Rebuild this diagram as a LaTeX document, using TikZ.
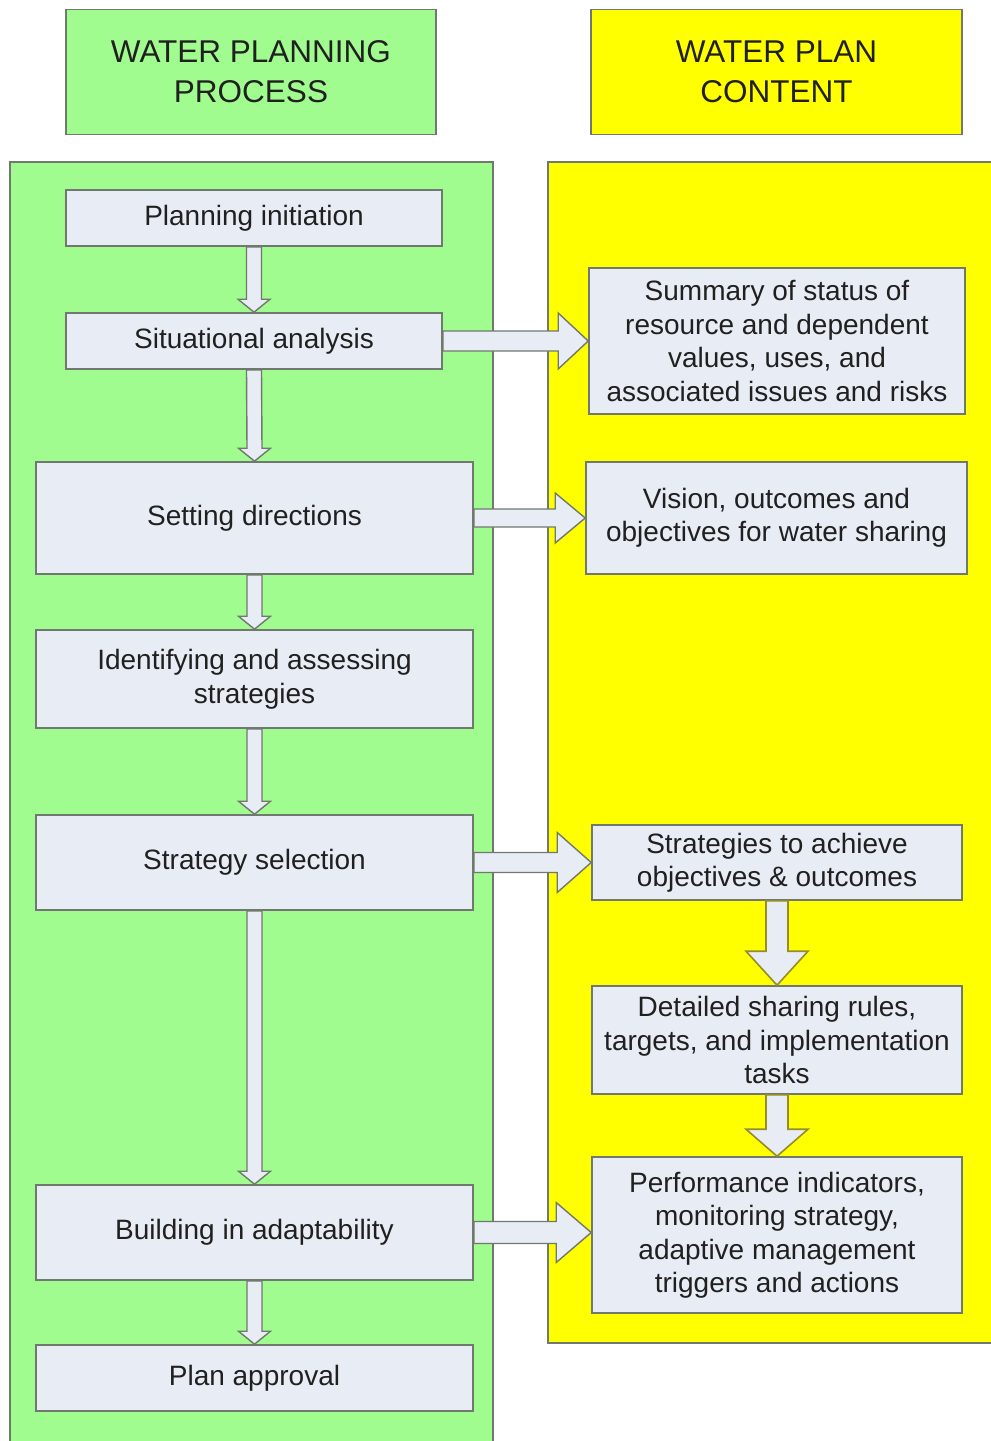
\documentclass[tikz,border=0pt]{standalone}
\usepackage{fontspec}
\setmainfont{Liberation Sans}
\usetikzlibrary{calc}
\definecolor{pgreen}{RGB}{160,252,142}
\definecolor{pyellow}{RGB}{255,255,0}
\definecolor{boxfill}{RGB}{232,236,244}
\definecolor{edgegray}{RGB}{112,120,112}
\definecolor{olivedge}{RGB}{150,140,40}
\definecolor{txtcol}{RGB}{32,32,32}
\newcommand{\blkdown}[6]{%
  \draw[#1] ($(#2.south)+(-#4,0)$) -- ($(#3.north)+(-#4,-#6)$) -- ($(#3.north)+(-#5,-#6)$) -- (#3.north)
   -- ($(#3.north)+(#5,-#6)$) -- ($(#3.north)+(#4,-#6)$) -- ($(#2.south)+(#4,0)$) -- cycle;}
\newcommand{\blkright}[6]{%
  \coordinate (tiptmp) at (#3.west |- #2.east);
  \draw[#1] ($(#2.east)+(0,-#4)$) -- ($(tiptmp)+(-#6,-#4)$) -- ($(tiptmp)+(-#6,-#5)$) -- (tiptmp)
   -- ($(tiptmp)+(-#6,#5)$) -- ($(tiptmp)+(-#6,#4)$) -- ($(#2.east)+(0,#4)$) -- cycle;}
\begin{document}
\begin{tikzpicture}[x=1pt,y=-1pt,
  panelg/.style={draw=edgegray,line width=1.6pt,fill=pgreen},
  panely/.style={draw=edgegray,line width=1.6pt,fill=pyellow},
  header/.style={draw=edgegray,line width=1.6pt,inner sep=0pt,align=center,text=txtcol,
     minimum width=370pt,minimum height=125pt,font=\fontsize{31.5}{40}\selectfont},
  procbox/.style={draw=edgegray,line width=1.6pt,fill=boxfill,inner sep=0pt,align=center,
     text=txtcol,font=\fontsize{28}{33.5}\selectfont},
  garrow/.style={draw=edgegray,line width=1.4pt,fill=boxfill,line join=miter},
  yarrow/.style={draw=olivedge,line width=1.6pt,fill=boxfill,line join=miter}]
\useasboundingbox (0,0) rectangle (991,1441);
\fill[white] (0,0) rectangle (991,1441);
% headers
\node[header,fill=pgreen] (hproc) at (251,72) {WATER PLANNING\\PROCESS};
\node[header,fill=pyellow,minimum width=371pt] (hcont) at (776.5,72) {WATER PLAN\\CONTENT};
% panels
\draw[panelg] (10,162) rectangle (493,1450);
\draw[panely] (548,162) rectangle (995,1343);
% left column
\node[procbox,minimum width=376pt,minimum height=56pt] (init) at (254,218) {Planning initiation};
\node[procbox,minimum width=376pt,minimum height=56pt] (sit) at (254,341) {Situational analysis};
\node[procbox,minimum width=437pt,minimum height=112pt] (dir) at (254.5,518) {Setting directions};
\node[procbox,minimum width=437pt,minimum height=98pt] (ident) at (254.5,679) {Identifying and assessing\\strategies};
\node[procbox,minimum width=437pt,minimum height=95pt] (sel) at (254.5,862.5) {Strategy selection};
\node[procbox,minimum width=437pt,minimum height=95pt] (adapt) at (254.5,1232.5) {Building in adaptability};
\node[procbox,minimum width=437pt,minimum height=66pt] (appr) at (254.5,1378) {Plan approval};
% right column
\node[procbox,minimum width=376pt,minimum height=146pt] (summ) at (777,341) {Summary of status of\\resource and dependent\\values, uses, and\\associated issues and risks};
\node[procbox,minimum width=381pt,minimum height=112pt] (vis) at (776.5,518) {Vision, outcomes and\\objectives for water sharing};
\node[procbox,minimum width=370pt,minimum height=75pt] (strat) at (777,862.5) {Strategies to achieve\\objectives \& outcomes};
\node[procbox,minimum width=370pt,minimum height=108pt] (rules) at (777,1040) {Detailed sharing rules,\\targets, and implementation\\tasks};
\node[procbox,minimum width=370pt,minimum height=156pt] (perf) at (777,1235) {Performance indicators,\\monitoring strategy,\\adaptive management\\triggers and actions};
% down arrows, left
\blkdown{garrow}{init}{sit}{7.5}{16}{13}
\blkdown{garrow}{sit}{dir}{7.5}{16}{13}
\blkdown{garrow}{dir}{ident}{7.5}{16}{13}
\blkdown{garrow}{ident}{sel}{7.5}{16}{13}
\blkdown{garrow}{sel}{adapt}{7.5}{16}{13}
\blkdown{garrow}{adapt}{appr}{7.5}{16}{13}
% right arrows
\blkright{garrow}{sit}{summ}{10}{28}{30}
\blkright{garrow}{dir}{vis}{9}{25}{30}
\blkright{garrow}{sel}{strat}{10}{30}{34}
\blkright{garrow}{adapt}{perf}{11}{30}{35}
% down arrows, right
\blkdown{yarrow}{strat}{rules}{11}{31}{34}
\blkdown{yarrow}{rules}{perf}{11}{31}{27}
\end{tikzpicture}
\end{document}
